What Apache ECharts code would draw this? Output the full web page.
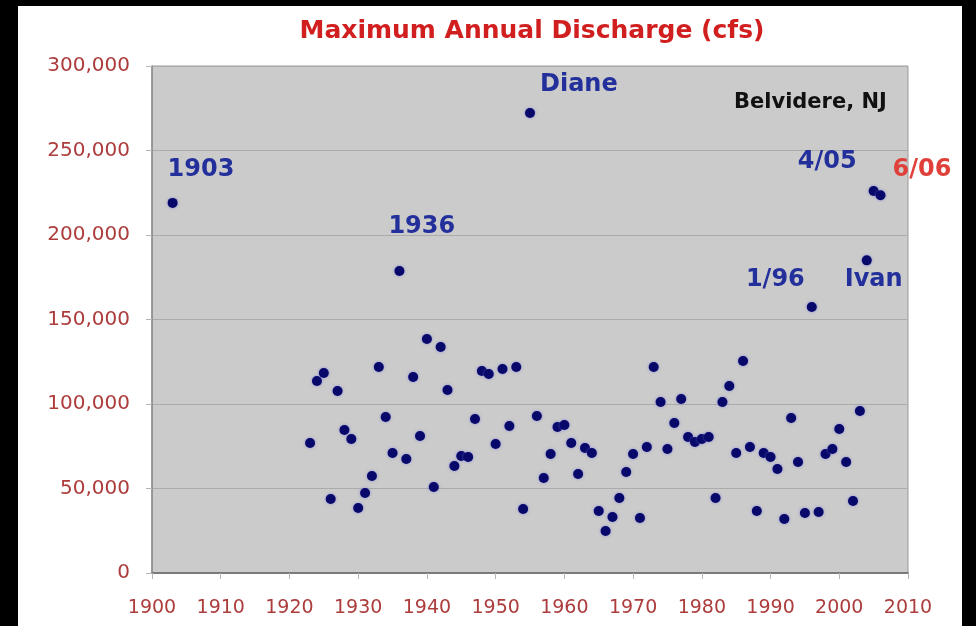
<!DOCTYPE html>
<html>
<head>
<meta charset="utf-8">
<script src="https://cdn.jsdelivr.net/npm/echarts@6/dist/echarts.min.js"></script>
<style>
  html, body { margin: 0; padding: 0; background: #000; }
  #zf { width: 976px; height: 626px; }
</style>
</head>
<body>
<div id="zf"></div>
<script>
// annual peaks, Delaware River at Belvidere NJ
var years = [1903, 1923, 1924, 1925, 1926, 1927, 1928, 1929, 1930, 1931, 1932, 1933, 1934, 1935,
    1936, 1937, 1938, 1939, 1940, 1941, 1942, 1943, 1944, 1945, 1946, 1947, 1948, 1949, 1950,
    1951, 1952, 1953, 1954, 1955, 1956, 1957, 1958, 1959, 1960, 1961, 1962, 1963, 1964, 1965,
    1966, 1967, 1968, 1969, 1970, 1971, 1972, 1973, 1974, 1975, 1976, 1977, 1978, 1979, 1980,
    1981, 1982, 1983, 1984, 1985, 1986, 1987, 1988, 1989, 1990, 1991, 1992, 1993, 1994, 1995,
    1996, 1997, 1998, 1999, 2000, 2001, 2002, 2003, 2004, 2005, 2006];
var discharge = [219000, 76900, 113600, 118300, 43800, 107700, 84600, 79300, 38500, 47300, 57400, 121900, 92300, 71000,
    178700, 67500, 116000, 81100, 138500, 50900, 133700, 108300, 63300, 69200, 68600, 91100, 119500, 117700, 76300,
    120700, 87000, 121900, 37900, 272200, 92900, 56200, 70400, 86400, 87600, 76900, 58600, 74000, 71000, 36700,
    24900, 33100, 44400, 59800, 70400, 32500, 74600, 121900, 101200, 73400, 88800, 103000, 80500, 77500, 79300,
    80500, 44400, 101200, 110600, 71000, 125400, 74600, 36700, 71000, 68600, 61500, 32000, 91700, 65700, 35500,
    157400, 36100, 70400, 73400, 85200, 65700, 42600, 95900, 185000, 226000, 223500];
var yTicks = [0, 50000, 100000, 150000, 200000, 250000, 300000];
var xTicks = [1900, 1910, 1920, 1930, 1940, 1950, 1960, 1970, 1980, 1990, 2000, 2010];
var noteYears = [1903, 1936, 1955, 1996, 2004, 2005, 2006];
var noteTexts = ['1903', '1936', 'Diane', '1/96', 'Ivan', '4/05', '6/06'];

var FONT = 'DejaVu Sans';
var BLUE = '#23309c';

// where each note sits relative to its dot
var noteStyle = {
    '1903': { position: [0, -28], align: 'left' },
    '1936': { position: [-6, -39], align: 'left' },
    'Diane': { position: [15, -23], align: 'left' },
    '1/96': { position: [-2, -22], align: 'right' },
    'Ivan': { position: [-17, 24], align: 'left' },
    '4/05': { position: [-12, -24], align: 'right' },
    '6/06': { position: [17, -21], align: 'left', color: '#e0403a' }
};

var pts = [];
for (var i = 0; i < years.length; i++) {
    var item = { value: [years[i], discharge[i]] };
    var k = noteYears.indexOf(years[i]);
    if (k >= 0) {
        var s = noteStyle[noteTexts[k]];
        item.label = {
            show: true,
            formatter: noteTexts[k],
            position: s.position,
            align: s.align,
            verticalAlign: 'middle',
            color: s.color || BLUE,
            fontFamily: FONT,
            fontWeight: 'bold',
            fontSize: 24
        };
    }
    pts.push(item);
}

function comma(v) {
    return String(v).replace(/\B(?=(\d{3})+(?!\d))/g, ',');
}

var myChart = echarts.init(document.getElementById('zf'));

var option = {
    backgroundColor: '#000',
    animation: false,
    title: {
        text: 'Maximum Annual Discharge (cfs)',
        left: 527,
        top: 14,
        textAlign: 'center',
        textStyle: { color: '#d11f1f', fontFamily: FONT, fontWeight: 'bold', fontSize: 25 }
    },
    graphic: [
        { type: 'rect', z: -10, shape: { x: 18, y: 6, width: 944, height: 620 }, style: { fill: '#fff' } },
        {
            type: 'text', z: 50, left: 734, top: 92,
            style: { text: 'Belvidere, NJ', fill: '#111', font: 'bold 21px "DejaVu Sans"' }
        }
    ],
    grid: {
        left: 152, right: 68, top: 66, bottom: 53,
        show: true,
        backgroundColor: '#cbcbcb',
        borderColor: '#9a9a9a',
        borderWidth: 1
    },
    xAxis: {
        type: 'value',
        min: xTicks[0],
        max: xTicks[xTicks.length - 1],
        interval: 10,
        splitLine: { show: false },
        axisLine: { lineStyle: { color: '#7a7a7a', width: 2 } },
        axisTick: { show: true, length: 6, lineStyle: { color: '#b5b5b5' } },
        axisLabel: {
            color: '#ad3c3c', fontFamily: FONT, fontSize: 19, margin: 26,
            formatter: function (v) { return String(v); }
        }
    },
    yAxis: {
        type: 'value',
        min: yTicks[0],
        max: yTicks[yTicks.length - 1],
        interval: 50000,
        splitLine: { lineStyle: { color: '#ababab' } },
        axisLine: { show: true, lineStyle: { color: '#8a8a8a', width: 1.5 } },
        axisTick: { show: true, length: 6, lineStyle: { color: '#b5b5b5' } },
        axisLabel: { color: '#ad3c3c', fontFamily: FONT, fontSize: 20, margin: 22, formatter: comma }
    },
    series: [
        {
            name: 'peak',
            type: 'scatter',
            symbol: 'circle',
            symbolSize: 10,
            itemStyle: {
                color: '#08086a',
                opacity: 1,
                shadowBlur: 3,
                shadowColor: 'rgba(110,110,220,0.7)'
            },
            data: pts,
            z: 5
        }
    ]
};

myChart.setOption(option);
</script>
</body>
</html>
